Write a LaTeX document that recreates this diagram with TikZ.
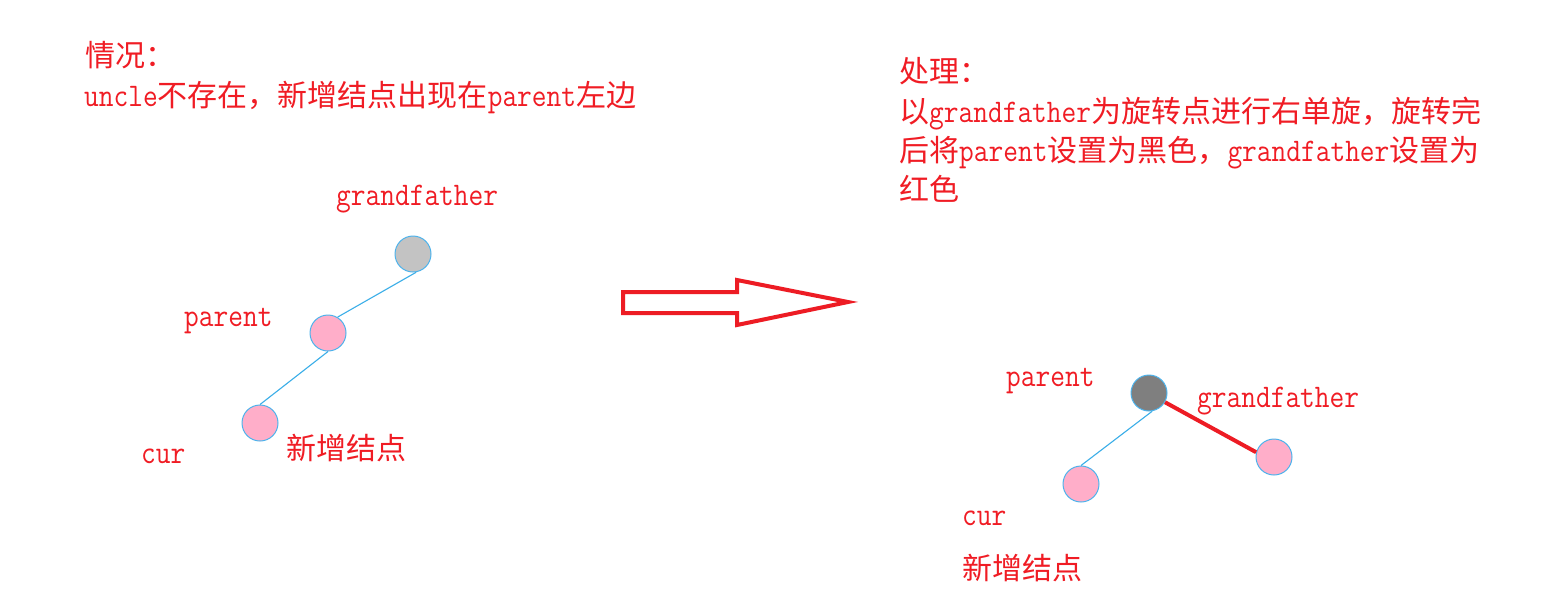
\documentclass[tikz,border=0pt]{standalone}
\usepackage{fontspec}
\setmainfont{Latin Modern Mono}[FakeStretch=0.866]
\newfontfamily\cjk{Noto Sans CJK SC}
\newcommand\zh[1]{{\fontsize{30}{39}\cjk #1}}
\definecolor{txtred}{HTML}{F01C24}
\definecolor{paintred}{HTML}{ED1C24}
\definecolor{pinkfill}{HTML}{FFAEC9}
\definecolor{ringblue}{HTML}{4DB3EC}
\definecolor{edgeblue}{HTML}{3AAEE8}
\definecolor{lightgray}{HTML}{C3C3C3}
\definecolor{darkgray}{HTML}{7F7F7F}
\begin{document}
\begin{tikzpicture}[x=1pt,y=-1pt,
  txt/.style={anchor=base west,inner sep=0pt,text=txtred,font=\fontsize{33}{39}\selectfont},
  ball/.style={circle,minimum size=36pt,inner sep=0pt,draw=ringblue,line width=1pt},
  edge/.style={draw=edgeblue,line width=1.1pt},
  redge/.style={draw=paintred,line width=4pt}]
\useasboundingbox (0,0) rectangle (1562,611);
\fill[white] (0,0) rectangle (1562,611);
% left description
\node[txt] (t1) at (85,66) {\zh{情况：}};
\node[txt] (t2) at (84,106) {uncle\zh{不存在，新增结点出现在}parent\zh{左边}};
% right description
\node[txt] (r1) at (899,82) {\zh{处理：}};
\node[txt] (r2) at (899,122) {\zh{以}grandfather\zh{为旋转点进行右单旋，旋转完}};
\node[txt] (r3) at (899,161) {\zh{后将}parent\zh{设置为黑色，}grandfather\zh{设置为}};
\node[txt] (r4) at (899,200) {\zh{红色}};
% left tree
\node[ball,fill=lightgray] (gf) at (413,254) {};
\node[ball,fill=pinkfill] (p) at (328,333) {};
\node[ball,fill=pinkfill] (c) at (260,423) {};
\draw[edge] (p.59) -- (gf.-80);
\draw[edge] (c.north) -- (p.south);
\node[txt] (lgf) at (336,205) {grandfather};
\node[txt] (lp) at (184,326) {parent};
\node[txt] (lc) at (141,463) {cur};
\node[txt] (ln) at (286,459) {\zh{新增结点}};
% big arrow
\draw[paintred,line width=4pt,line join=miter]
  (623,292) -- (737,292) -- (737,280) -- (848,302) -- (737,325) -- (737,313) -- (623,313) -- cycle;
% right tree
\node[ball,fill=darkgray] (p2) at (1149,393) {};
\node[ball,fill=pinkfill] (g2) at (1274,457) {};
\node[ball,fill=pinkfill] (c2) at (1081,484) {};
\draw[edge] (c2.north) -- (p2.-80);
\draw[redge] (p2.-30) -- (g2.165);
\node[txt] (rp) at (1006,386) {parent};
\node[txt] (rgf) at (1197,407) {grandfather};
\node[txt] (rc) at (962,525) {cur};
\node[txt] (rn) at (962,579) {\zh{新增结点}};
\end{tikzpicture}
\end{document}
